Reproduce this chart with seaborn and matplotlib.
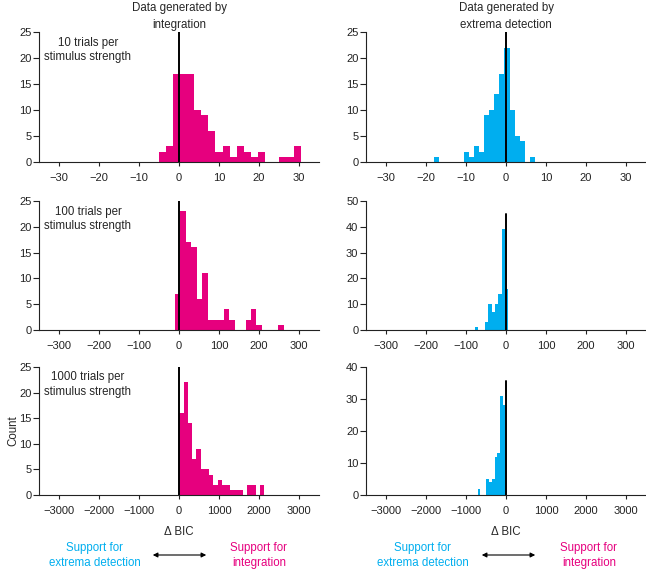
import numpy as np
import pandas as pd
import matplotlib
matplotlib.use("Agg")
import matplotlib.pyplot as plt
import seaborn as sns

# ---------------- data (counts per histogram bin) ----------------
MAGENTA = "#E6007E"
CYAN = "#00AEEF"

int_10_counts = [2, 3, 17, 17, 17, 10, 9, 6, 2, 3, 1, 3, 2, 1, 2, 0, 0, 1, 1, 3]
int_10_range = (-5.1, 30.4)
ext_10_counts = [1, 0, 0, 0, 0, 0, 2, 1, 3, 2, 9, 10, 13, 17, 22, 10, 5, 4, 0, 1]
ext_10_range = (-18.0, 7.17)

int_100_counts = [7, 23, 17, 16, 6, 11, 2, 2, 2, 4, 2, 0, 0, 2, 4, 1, 0, 0, 0, 1]
int_100_range = (-10.0, 261.5)
ext_100_counts = [1, 0, 0, 3, 10, 7, 10, 14, 39, 16]
ext_100_range = (-77.5, 5.8)

int_1000_counts = [16, 22, 14, 7, 9, 5, 5, 4, 2, 3, 2, 2, 1, 1, 1, 0, 2, 2, 0, 2]
int_1000_range = (8.0, 2130.0)
ext_1000_counts = [2, 0, 0, 5, 4, 5, 12, 13, 31, 28]
ext_1000_range = (-708.0, -5.0)

row_xticks = [[-30, -20, -10, 0, 10, 20, 30],
              [-300, -200, -100, 0, 100, 200, 300],
              [-3000, -2000, -1000, 0, 1000, 2000, 3000]]
row_xlim = [35, 350, 3500]
left_yticks = [[0, 5, 10, 15, 20, 25], [0, 5, 10, 15, 20, 25], [0, 5, 10, 15, 20, 25]]
right_yticks = [[0, 5, 10, 15, 20, 25], [0, 10, 20, 30, 40, 50], [0, 10, 20, 30, 40]]
row_labels = ["10 trials per\nstimulus strength",
              "100 trials per\nstimulus strength",
              "1000 trials per\nstimulus strength"]
col_titles = ["Data generated by\nintegration", "Data generated by\nextrema detection"]

left_counts = [int_10_counts, int_100_counts, int_1000_counts]
left_ranges = [int_10_range, int_100_range, int_1000_range]
right_counts = [ext_10_counts, ext_100_counts, ext_1000_counts]
right_ranges = [ext_10_range, ext_100_range, ext_1000_range]

# ---------------- style ----------------
sns.set_theme(style="ticks")
plt.rcParams["font.family"] = ["Liberation Sans", "DejaVu Sans"]
plt.rcParams["axes.linewidth"] = 0.8
plt.rcParams["axes.edgecolor"] = "#222222"
plt.rcParams["xtick.color"] = "#222222"
plt.rcParams["ytick.color"] = "#222222"

W, H = 646, 570
fig = plt.figure(figsize=(W / 100, H / 100), dpi=100)

col_x = [39, 366]
ax_w = 280
row_y = [(32, 162), (201, 330), (367, 495)]
zero_line_frac = [[1.0, 1.0], [1.0, 0.9], [1.0, 0.89]]

TICK_FS = 8.0
TXT_FS = 8.3

for r in range(3):
    top, bot = row_y[r]
    for c in range(2):
        ax = fig.add_axes([col_x[c] / W, 1 - bot / H, ax_w / W, (bot - top) / H])
        counts = left_counts[r] if c == 0 else right_counts[r]
        lo, hi = left_ranges[r] if c == 0 else right_ranges[r]
        edges = np.linspace(lo, hi, len(counts) + 1)
        centers = (edges[:-1] + edges[1:]) / 2
        df = pd.DataFrame({"dbic": centers, "n": np.asarray(counts, dtype=float)})
        sns.histplot(data=df, x="dbic", weights="n", bins=edges.tolist(),
                     color=MAGENTA if c == 0 else CYAN, alpha=1,
                     linewidth=0, ax=ax)
        yt = left_yticks[r] if c == 0 else right_yticks[r]
        ax.set_xlim(-row_xlim[r], row_xlim[r])
        ax.set_ylim(0, yt[-1])
        ax.set_xticks(row_xticks[r])
        ax.set_yticks(yt)
        ax.axvline(0, ymin=0, ymax=zero_line_frac[r][c], color="black", lw=1.4, zorder=5)
        sns.despine(ax=ax)
        ax.tick_params(axis="x", length=3, width=0.8, pad=5, labelsize=TICK_FS)
        ax.tick_params(axis="y", length=4, width=0.8, pad=1.5, labelsize=TICK_FS)
        ax.set_ylabel("")
        if r == 2:
            ax.set_xlabel("Δ BIC", fontsize=TXT_FS, labelpad=7)
            if c == 0:
                ax.set_ylabel("Count", fontsize=TXT_FS, labelpad=0)
        else:
            ax.set_xlabel("")
        if c == 0:
            ax.text(0.175, 0.965, row_labels[r], transform=ax.transAxes,
                    ha="center", va="top", fontsize=TXT_FS, linespacing=1.25)

# column titles
for c in range(2):
    xc = (col_x[c] + ax_w / 2) / W
    fig.text(xc, 1 - 16.5 / H, col_titles[c], ha="center", va="center",
             fontsize=TXT_FS, linespacing=1.5)

# bottom annotations
cyan_x = [95, 423]
mag_x = [259, 589]
arrow_x = [(150, 209), (479, 538)]
for c in range(2):
    fig.text(cyan_x[c] / W, 1 - 555.5 / H, "Support for\nextrema detection",
             color=CYAN, ha="center", va="center", fontsize=TXT_FS, linespacing=1.25)
    fig.text(mag_x[c] / W, 1 - 555.5 / H, "Support for\nintegration",
             color=MAGENTA, ha="center", va="center", fontsize=TXT_FS, linespacing=1.25)
    x0, x1 = arrow_x[c]
    fig.add_artist(matplotlib.patches.FancyArrowPatch(
        (x0 / W, 1 - 555 / H), (x1 / W, 1 - 555 / H), transform=fig.transFigure,
        arrowstyle="<|-|>", mutation_scale=7, lw=0.8, color="black"))

fig.savefig("out.png", dpi=100)
